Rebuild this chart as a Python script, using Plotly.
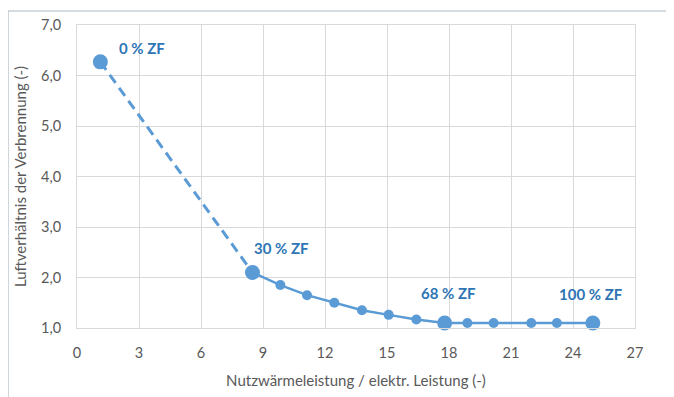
import plotly.graph_objects as go

# Data
ratio_x = [1.13, 8.49, 9.84, 11.13, 12.45, 13.79, 15.08, 16.42, 17.79, 18.89, 20.16, 21.98, 23.22, 24.96]
lambda_y = [6.27, 2.10, 1.85, 1.65, 1.50, 1.35, 1.26, 1.17, 1.10, 1.10, 1.10, 1.10, 1.10, 1.10]
point_labels = ["0 % ZF", "30 % ZF", "", "", "", "", "", "", "68 % ZF", "", "", "", "", "100 % ZF"]

x_title = "Nutzwärmeleistung / elektr. Leistung (-)"
y_title = "Luftverhältnis der Verbrennung (-)"

LINE = "#5B9BD5"
LABEL = "#2E75B6"
GRID = "#D9D9D9"
TICK = "#595959"
FONT = "Lato"

sizes = [15 if lab else 10 for lab in point_labels]

fig = go.Figure()
# dashed extrapolation segment (0 % -> 30 %)
fig.add_trace(go.Scatter(x=ratio_x[:2], y=lambda_y[:2], mode="lines",
                         line=dict(color=LINE, width=3, dash="10px,6px"),
                         hoverinfo="skip", showlegend=False))
# solid measured curve
fig.add_trace(go.Scatter(x=ratio_x[1:], y=lambda_y[1:], mode="lines",
                         line=dict(color=LINE, width=2.5),
                         showlegend=False))
# markers
fig.add_trace(go.Scatter(x=ratio_x, y=lambda_y, mode="markers",
                         marker=dict(color=LINE, size=sizes, opacity=1, line=dict(width=0)),
                         cliponaxis=False, showlegend=False))

offsets = {0: (42, 14), 1: (29, 24), 8: (4, 30), 13: (-2, 29)}
for i, lab in enumerate(point_labels):
    if lab:
        dx, dy = offsets[i]
        fig.add_annotation(x=ratio_x[i], y=lambda_y[i], text=f"<b>{lab}</b>",
                           showarrow=False, xshift=dx, yshift=dy,
                           font=dict(family=FONT, size=15, color=LABEL))

# outer frame lines (top and left)
fig.add_shape(type="line", xref="paper", yref="paper", x0=-0.1237, x1=1.2, y0=1.0462, y1=1.0462,
              line=dict(color="#A9B7C3", width=1.2))
fig.add_shape(type="line", xref="paper", yref="paper", x0=-0.1237, x1=-0.1237, y0=1.0462, y1=-0.4,
              line=dict(color="#A9B7C3", width=1.2))

fig.update_layout(
    width=674, height=397,
    margin=dict(l=69, r=47, t=17, b=77),
    paper_bgcolor="white", plot_bgcolor="white",
    separators=",.",
    font=dict(family=FONT, color=TICK, size=14),
    xaxis=dict(range=[0, 27], dtick=3, tick0=0, showgrid=True, gridcolor=GRID, gridwidth=1,
               zeroline=False, showline=True, linecolor=GRID, mirror=True, automargin=False,
               ticks="", ticklabelstandoff=12,
               tickfont=dict(family=FONT, size=14.5, color=TICK),
               title=dict(text=x_title, font=dict(family=FONT, size=15, color=TICK), standoff=15)),
    yaxis=dict(range=[1, 7], dtick=1, tick0=1, tickformat=".1f", showgrid=True, gridcolor=GRID,
               gridwidth=1, zeroline=False, showline=True, linecolor=GRID, mirror=True, automargin=False,
               ticks="", ticklabelstandoff=12,
               tickfont=dict(family=FONT, size=14.5, color=TICK),
               title=dict(text=y_title, font=dict(family=FONT, size=15, color=TICK), standoff=10)),
)

fig.write_html("out.html")
